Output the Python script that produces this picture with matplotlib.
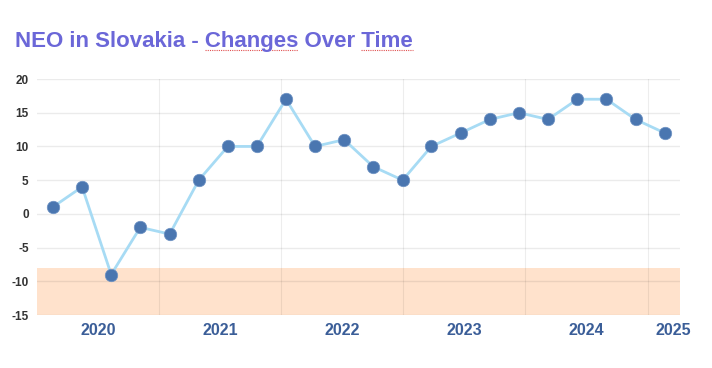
import numpy as np
import matplotlib
matplotlib.use('Agg')
import matplotlib.pyplot as plt

plt.rcParams['font.family'] = ['Liberation Sans', 'DejaVu Sans']

##Data
dates = ['2020-02-17', '2020-05-15', '2020-08-10', '2020-11-05',
         '2021-02-01', '2021-04-29', '2021-07-25', '2021-10-20',
         '2022-01-15', '2022-04-12', '2022-07-08', '2022-10-03',
         '2022-12-30', '2023-03-26', '2023-06-22', '2023-09-17',
         '2023-12-13', '2024-03-09', '2024-06-05', '2024-08-31',
         '2024-11-26', '2025-02-21']
values = [1, 4, -9, -2, -3, 5, 10, 10, 17, 10, 11, 7, 5, 10, 12, 14, 15, 14, 17, 17, 14, 12]
year_labels = ['2020', '2021', '2022', '2023', '2024', '2025']
label_dates = ['2020-07-01', '2021-07-02', '2022-07-02', '2023-07-02', '2024-07-01', '2025-03-20']
year_lines = ['2021-01-01', '2022-01-01', '2023-01-01', '2024-01-01', '2025-01-01']
band = (-15, -8.1)
title = 'NEO in Slovakia - Changes Over Time'

x = np.array(dates, dtype='datetime64[D]')

fig = plt.figure(figsize=(7.12, 3.68), dpi=100)
ax = fig.add_axes([37/712, 1-315/368, (680-37)/712, (315-79)/368])

#shaded band
ax.axhspan(band[0], band[1], color='#FFE2CC', zorder=0, lw=0)

#grid (semi transparent so it shows through the band)
for yv in range(-15, 21, 5):
    ax.axhline(yv, color='black', alpha=0.08, lw=1, zorder=1)
for d in year_lines:
    ax.axvline(np.datetime64(d), color='black', alpha=0.07, lw=0.8, zorder=1)

ax.plot(x, values, color='#A7DBF4', lw=2, zorder=2)
ax.plot(x, values, 'o', ms=9, color='#4A76B0', mec='#6F93C4', mew=0.5, zorder=3)

ax.set_xlim(np.datetime64('2020-01-01'), np.datetime64('2025-04-08'))
ax.set_ylim(-15, 20)
ax.set_yticks(range(-15, 21, 5))
ax.set_yticklabels([str(v) for v in range(-15, 21, 5)], fontsize=8.5,
                   fontweight='bold', color='#333333')
ax.set_xticks(np.array(label_dates, dtype='datetime64[D]'))
ax.set_xticklabels(year_labels, fontsize=11.5, fontweight='bold', color='#3B5E98')
ax.tick_params(axis='both', length=0)
ax.tick_params(axis='y', pad=6)
ax.tick_params(axis='x', pad=6)
for s in ax.spines.values():
    s.set_visible(False)

#title
fs = 16
tx, ty = 15/712, 1-47/368
t = fig.text(tx, ty, title, fontsize=fs, fontweight='bold', color='#6B67D8',
             ha='left', va='baseline')

#spell-check squiggles under 'Changes' and 'Time'
fig.canvas.draw()
r = fig.canvas.get_renderer()
def width_of(s):
    tmp = fig.text(tx, ty, s, fontsize=fs, fontweight='bold')
    w = tmp.get_window_extent(r).width
    tmp.remove()
    return w
x0 = tx * 712
for word in ['Changes', 'Time']:
    i = title.index(word)
    a = x0 + width_of(title[:i])
    b = x0 + width_of(title[:i + len(word)])
    yy = 1 - 49.5/368
    fig.add_artist(plt.Line2D([a/712, b/712], [yy, yy], color='#E05050',
                              lw=0.8, ls=(0, (1, 1)), transform=fig.transFigure))

fig.savefig('out.png', dpi=100)
